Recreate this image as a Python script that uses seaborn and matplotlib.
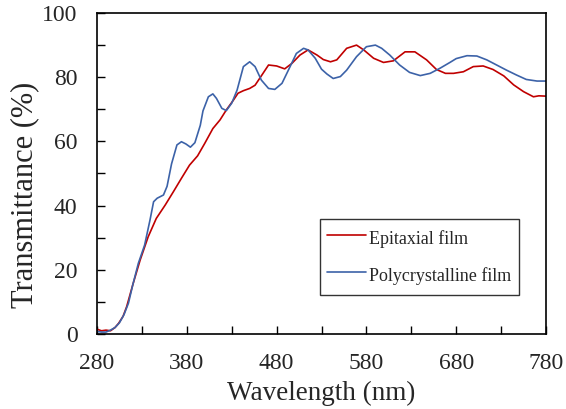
import numpy as np
import pandas as pd
import matplotlib
matplotlib.use("Agg")
import matplotlib.pyplot as plt
import seaborn as sns
from matplotlib.ticker import FixedLocator

# ---- data ----
epi_wl = [280, 285, 290, 295, 300, 304, 309, 313, 320, 328, 337, 346, 356, 365, 374, 383,
          392, 400, 409, 417, 424, 432, 437, 443, 450, 456, 462, 471, 480, 489, 497, 506,
          515, 525, 532, 540, 547, 558, 569, 577, 588, 599, 610, 623, 634, 647, 658, 668,
          677, 688, 699, 710, 721, 733, 744, 755, 766, 772, 780]
epi_t = [1.5, 1.0, 1.2, 1.0, 2.0, 3.3, 5.5, 8.5, 15.5, 23.0, 30.3, 36.0, 40.2, 44.3, 48.5, 52.6,
         55.5, 59.4, 64.0, 66.7, 69.8, 72.9, 75.0, 75.8, 76.5, 77.5, 80.0, 83.8, 83.5, 82.6, 84.3, 86.9,
         88.5, 86.9, 85.5, 84.8, 85.4, 89.0, 90.0, 88.5, 85.9, 84.6, 85.1, 87.9, 87.9, 85.4, 82.4, 81.2,
         81.2, 81.7, 83.3, 83.5, 82.4, 80.4, 77.6, 75.5, 73.9, 74.2, 74.1]

poly_wl = [280, 285, 290, 295, 300, 305, 310, 315, 320, 326, 333, 339, 343, 347, 354, 358,
           363, 369, 374, 379, 384, 389, 395, 398, 404, 409, 413, 419, 424, 430, 436, 443,
           450, 456, 463, 471, 478, 486, 495, 502, 510, 515, 523, 530, 536, 543, 551, 558,
           569, 580, 590, 597, 606, 617, 628, 640, 651, 662, 673, 680, 692, 703, 714, 725,
           736, 747, 758, 770, 780]
poly_t = [0.8, 0.6, 0.6, 1.2, 2.0, 3.5, 6.0, 9.6, 15.5, 22.0, 27.7, 35.5, 41.2, 42.3, 43.3, 46.0,
          53.0, 58.9, 59.9, 59.2, 58.2, 59.6, 65.0, 69.5, 73.9, 74.8, 73.4, 70.3, 69.6, 71.9, 76.0, 83.3,
          84.8, 83.3, 79.1, 76.5, 76.2, 78.1, 83.3, 87.4, 89.0, 88.5, 85.9, 82.5, 81.0, 79.6, 80.2, 82.2,
          86.4, 89.5, 90.0, 89.0, 86.9, 83.8, 81.5, 80.5, 81.2, 82.8, 84.6, 85.8, 86.7, 86.6, 85.4, 83.8,
          82.2, 80.7, 79.3, 78.8, 78.8]

series_names = ["Epitaxial film", "Polycrystalline film"]
x_major = [280, 380, 480, 580, 680, 780]
x_minor = [330, 430, 530, 630, 730]
y_major = [0, 20, 40, 60, 80, 100]
y_minor = [10, 30, 50, 70, 90]

df = pd.concat([
    pd.DataFrame({"Wavelength": epi_wl, "T": epi_t, "film": series_names[0]}),
    pd.DataFrame({"Wavelength": poly_wl, "T": poly_t, "film": series_names[1]}),
], ignore_index=True)

sns.set_theme(style="ticks")
plt.rcParams["font.family"] = ["Liberation Serif", "DejaVu Serif"]

fig = plt.figure(figsize=(5.66, 4.09), dpi=100)
ax = fig.add_axes([0.1714, 0.1834, 0.7933, 0.7848])

sns.lineplot(data=df, x="Wavelength", y="T", hue="film", ax=ax,
             palette={series_names[0]: "#C00000", series_names[1]: "#3C62A8"},
             linewidth=1.2, sort=False, estimator=None)

ax.set_xlim(280, 780)
ax.set_ylim(0, 100)
ax.xaxis.set_major_locator(FixedLocator(x_major))
ax.xaxis.set_minor_locator(FixedLocator(x_minor))
ax.yaxis.set_major_locator(FixedLocator(y_major))
ax.yaxis.set_minor_locator(FixedLocator(y_minor))
ax.tick_params(which="both", direction="in", color="black", width=1.0)
ax.tick_params(which="major", length=6, labelsize=17, pad=14)
ax.tick_params(which="minor", length=6)
for s in ax.spines.values():
    s.set_color("black")
    s.set_linewidth(1.2)

ax.set_xlabel("Wavelength (nm)", fontsize=19.5)
ax.set_ylabel("Transmittance (%)", fontsize=22)
ax.xaxis.set_label_coords(0.5, -0.146)
ax.yaxis.set_label_coords(-0.128, 0.433)

leg = ax.legend(loc="lower left", bbox_to_anchor=(0.4967, 0.1215), borderaxespad=0,
                fontsize=13, frameon=True, fancybox=False, edgecolor="#333333",
                framealpha=1, handlelength=2.15, handletextpad=0.17,
                handleheight=1.7, labelspacing=0.7, borderpad=0.4, title=None)
leg.get_frame().set_linewidth(1.0)

fig.savefig("out.png", dpi=100)
